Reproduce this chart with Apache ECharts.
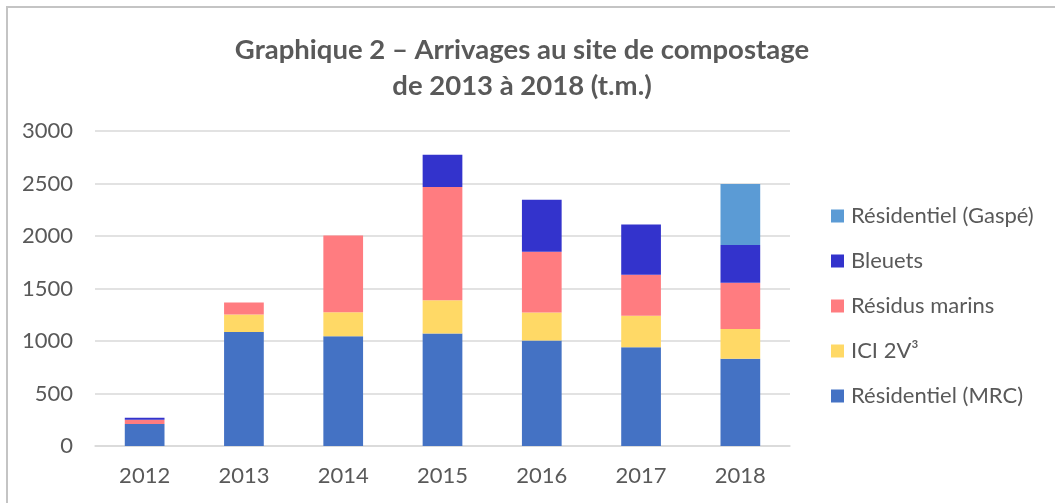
<!DOCTYPE html>
<html>
<head>
<meta charset="utf-8">
<script src="https://cdn.jsdelivr.net/npm/echarts@6/dist/echarts.min.js"></script>
<style>
  html, body { margin: 0; padding: 0; background: #fff; }
  #main { width: 1055px; height: 503px; }
</style>
</head>
<body>
<div id="main"></div>
<script>
// ------------------------------ 数据 -----------------------------------------
var years = ['2012', '2013', '2014', '2015', '2016', '2017', '2018'];
var residentielMRC = [210, 1085, 1045, 1071, 1005, 940, 830];
var ici2v3 = [0, 167, 230, 318, 267, 300, 285];
var residusMarins = [40, 114, 730, 1078, 577, 390, 440];
var bleuets = [20, 0, 0, 308, 497, 480, 360];
var residentielGaspe = [0, 0, 0, 0, 0, 0, 580];
var yTicks = [0, 500, 1000, 1500, 2000, 2500, 3000];

var textColor = '#595959';
var fontName = 'Lato, "Open Sans", sans-serif';

var chartDom = document.getElementById('main');
var myChart = echarts.init(chartDom);
var option;

function barSeries(name, data, color) {
    return {
        name: name,
        type: 'bar',
        stack: 'total',
        barWidth: '40%',
        data: data,
        itemStyle: { color: color },
        emphasis: { disabled: true }
    };
}

option = {
    animation: false,
    textStyle: { fontFamily: fontName },
    title: {
        text: 'Graphique 2 \u2013 Arrivages au site de compostage\nde 2013 \u00e0 2018 (t.m.)',
        left: 522,
        textAlign: 'center',
        top: 32,
        padding: 0,
        textStyle: {
            color: textColor,
            fontSize: 27.5,
            fontWeight: 'bold',
            lineHeight: 36,
            fontFamily: fontName
        }
    },
    graphic: [{
        type: 'rect',
        shape: { x: 7, y: 7, width: 1100, height: 600 },
        style: { fill: 'none', stroke: '#c4c4c4', lineWidth: 2 },
        silent: true
    }],
    legend: {
        orient: 'vertical',
        left: 831,
        top: 205,
        padding: 0,
        itemWidth: 13,
        itemHeight: 13,
        itemGap: 23,
        icon: 'rect',
        data: ['R\u00e9sidentiel (Gasp\u00e9)', 'Bleuets', 'R\u00e9sidus marins', 'ICI 2V\u00b3', 'R\u00e9sidentiel (MRC)'],
        textStyle: { color: textColor, fontSize: 22, fontFamily: fontName, padding: [0, 0, 0, 2] },
        selectedMode: false
    },
    grid: {
        left: 95,
        right: 265,
        top: 131,
        bottom: 57,
        containLabel: false
    },
    xAxis: {
        type: 'category',
        data: years,
        axisLine: { lineStyle: { color: '#d9d9d9', width: 1.5 } },
        axisTick: { show: false },
        axisLabel: { color: textColor, fontSize: 22, margin: 19, fontFamily: fontName }
    },
    yAxis: {
        type: 'value',
        min: yTicks[0],
        max: yTicks[yTicks.length - 1],
        interval: 500,
        axisLine: { show: false },
        axisTick: { show: false },
        axisLabel: {
            color: textColor, fontSize: 22, margin: 22, fontFamily: fontName,
            formatter: function (v) { return String(v); }
        },
        splitLine: { lineStyle: { color: '#d9d9d9', width: 1.5 } }
    },
    series: [
        barSeries('R\u00e9sidentiel (MRC)', residentielMRC, '#4472c4'),
        barSeries('ICI 2V\u00b3', ici2v3, '#ffd966'),
        barSeries('R\u00e9sidus marins', residusMarins, '#ff7c80'),
        barSeries('Bleuets', bleuets, '#3333cc'),
        barSeries('R\u00e9sidentiel (Gasp\u00e9)', residentielGaspe, '#5b9bd5')
    ]
};

option && myChart.setOption(option);
</script>
</body>
</html>
